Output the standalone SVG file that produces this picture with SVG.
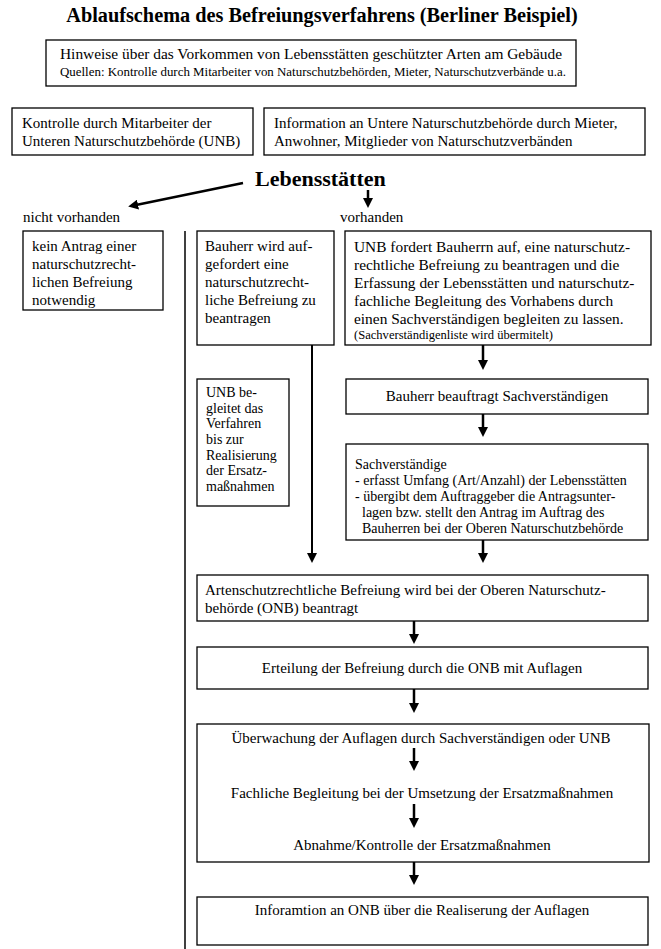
<svg xmlns="http://www.w3.org/2000/svg" width="661" height="949" viewBox="0 0 661 949">
<style>
.t{font-size:15px}
.u{font-size:15.4px}
.s{font-size:14px}
.sm{font-size:12px}
.c{text-anchor:middle}
rect{fill:#fff;stroke:#000;stroke-width:1.3}
.ln{stroke:#000;stroke-width:2.5;fill:none}
.thin{stroke:#000;stroke-width:1.5;fill:none}
</style>
<defs>
<marker id="ah" markerUnits="userSpaceOnUse" markerWidth="11" markerHeight="10" refX="2" refY="5" orient="auto">
<path d="M0,0 L10,5 L0,10 z" fill="#000"/>
</marker>
</defs>
<rect x="0" y="0" width="661" height="949" style="stroke:none"/>
<g font-family="'Liberation Serif', 'DejaVu Serif', serif" fill="#000">
<text x="322" y="22" class="c" style="font-size:20.3px;font-weight:bold">Ablaufschema des Befreiungsverfahrens (Berliner Beispiel)</text>

<g id="hinweise">
<rect x="46" y="40" width="530" height="46"/>
<text x="60" y="59" class="t" textLength="502" lengthAdjust="spacingAndGlyphs">Hinweise über das Vorkommen von Lebensstätten geschützter Arten am Gebäude</text>
<text x="60" y="76" class="sm" textLength="506" lengthAdjust="spacingAndGlyphs">Quellen: Kontrolle durch Mitarbeiter von Naturschutzbehörden, Mieter, Naturschutzverbände u.a.</text>
</g>
<g id="kontrolle">
<rect x="12" y="108" width="241" height="47"/>
<text x="22" y="128" class="t">Kontrolle durch Mitarbeiter der</text>
<text x="22" y="146" class="t">Unteren Naturschutzbehörde (UNB)</text>
</g>
<g id="information">
<rect x="264" y="108" width="381" height="47"/>
<text x="274" y="128" class="t">Information an Untere Naturschutzbehörde durch Mieter,</text>
<text x="274" y="146" class="t">Anwohner, Mitglieder von Naturschutzverbänden</text>
</g>
<g id="lebensstaetten">
<text x="255" y="186" style="font-size:22px;font-weight:bold">Lebensstätten</text>
</g>
<g id="labels">
<text x="23" y="222" class="t">nicht vorhanden</text>
<text x="340" y="222" class="t">vorhanden</text>
</g>
<g id="kein-antrag">
<rect x="23" y="231" width="140" height="79"/>
<text x="32" y="251" class="t">kein Antrag einer</text>
<text x="32" y="269" class="t">naturschutzrecht-</text>
<text x="32" y="287" class="t">lichen Befreiung</text>
<text x="32" y="305" class="t">notwendig</text>
</g>
<g id="bauherr-aufgefordert">
<rect x="197" y="231" width="137" height="114"/>
<text x="205" y="251" class="t">Bauherr wird auf-</text>
<text x="205" y="269" class="t">gefordert eine</text>
<text x="205" y="287" class="t">naturschutzrecht-</text>
<text x="205" y="305" class="t">liche Befreiung zu</text>
<text x="205" y="323" class="t">beantragen</text>
</g>
<g id="unb-fordert">
<rect x="345" y="231" width="306" height="114"/>
<text x="354" y="252" class="u">UNB fordert Bauherrn auf, eine naturschutz-</text>
<text x="354" y="270" class="u">rechtliche Befreiung zu beantragen und die</text>
<text x="354" y="288" class="u">Erfassung der Lebensstätten und naturschutz-</text>
<text x="354" y="306" class="u">fachliche Begleitung des Vorhabens durch</text>
<text x="354" y="324" class="u">einen Sachverständigen begleiten zu lassen.</text>
<text x="354" y="339" style="font-size:11.5px" textLength="199" lengthAdjust="spacingAndGlyphs">(Sachverständigenliste wird übermitelt)</text>
</g>
<g id="unb-begleitet">
<rect x="197" y="379" width="92" height="127"/>
<text x="206" y="397" class="s">UNB be-</text>
<text x="206" y="413" class="s">gleitet das</text>
<text x="206" y="428" class="s">Verfahren</text>
<text x="206" y="444" class="s">bis zur</text>
<text x="206" y="460" class="s">Realisierung</text>
<text x="206" y="475" class="s">der Ersatz-</text>
<text x="206" y="491" class="s">maßnahmen</text>
</g>
<g id="beauftragt">
<rect x="346" y="379" width="302" height="35"/>
<text x="497" y="401" class="t c">Bauherr beauftragt Sachverständigen</text>
</g>
<g id="sachverstaendige">
<rect x="346" y="444" width="302" height="96"/>
<text x="355" y="469" class="s">Sachverständige</text>
<text x="355" y="485" class="s">- erfasst Umfang (Art/Anzahl) der Lebensstätten</text>
<text x="355" y="501" class="s">- übergibt dem Auftraggeber die Antragsunter-</text>
<text x="362" y="517" class="s">lagen bzw. stellt den Antrag im Auftrag des</text>
<text x="362" y="533" class="s">Bauherren bei der Oberen Naturschutzbehörde</text>
</g>
<g id="beantragt">
<rect x="197" y="575" width="451" height="46"/>
<text x="205" y="595" class="t">Artenschutzrechtliche Befreiung wird bei der Oberen Naturschutz-</text>
<text x="205" y="613" class="t">behörde (ONB) beantragt</text>
</g>
<g id="erteilung">
<rect x="197" y="647" width="451" height="42"/>
<text x="422" y="673" class="t c">Erteilung der Befreiung durch die ONB mit Auflagen</text>
</g>
<g id="ueberwachung">
<rect x="197" y="724" width="452" height="138"/>
<text x="421" y="743" class="t c">Überwachung der Auflagen durch Sachverständigen oder UNB</text>
<text x="422" y="798" class="t c">Fachliche Begleitung bei der Umsetzung der Ersatzmaßnahmen</text>
<text x="422" y="850" class="t c">Abnahme/Kontrolle der Ersatzmaßnahmen</text>
</g>
<g id="inforamtion">
<rect x="197" y="897" width="451" height="48"/>
<text x="422" y="915" class="t c">Inforamtion an ONB über die Realiserung der Auflagen</text>
</g>
</g>

<g id="connectors">
<line class="ln" x1="243" y1="183" x2="136" y2="205" marker-end="url(#ah)"/>
<line class="ln" x1="368" y1="190" x2="368" y2="200" marker-end="url(#ah)"/>
<line class="thin" x1="185" y1="231" x2="185" y2="949"/>
<line class="ln" x1="312" y1="345" x2="312" y2="555" marker-end="url(#ah)" style="stroke-width:2"/>
<line class="ln" x1="483" y1="345" x2="483" y2="362" marker-end="url(#ah)"/>
<line class="ln" x1="483" y1="414" x2="483" y2="429" marker-end="url(#ah)"/>
<line class="ln" x1="483" y1="540" x2="483" y2="555" marker-end="url(#ah)"/>
<line class="ln" x1="414" y1="621" x2="414" y2="636" marker-end="url(#ah)"/>
<line class="ln" x1="414" y1="689" x2="414" y2="705" marker-end="url(#ah)"/>
<line class="ln" x1="414" y1="748" x2="414" y2="763" marker-end="url(#ah)"/>
<line class="ln" x1="414" y1="804" x2="414" y2="820" marker-end="url(#ah)"/>
<line class="ln" x1="414" y1="862" x2="414" y2="877" marker-end="url(#ah)"/>
</g>
</svg>
